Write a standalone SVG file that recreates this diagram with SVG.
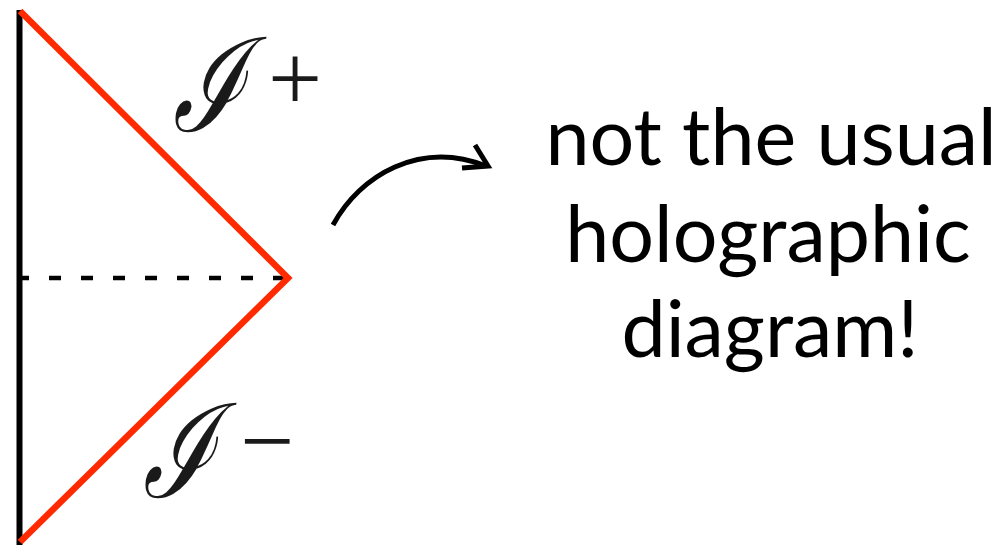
<svg xmlns="http://www.w3.org/2000/svg" width="1001" height="546" viewBox="0 0 1001 546">
<style>
.red{stroke:#ff2a00;stroke-width:6.5;fill:none;stroke-linejoin:miter}
.blk{stroke:#000;fill:none}
.big{font-family:Lato,"Open Sans",sans-serif;font-size:79px;fill:#000;text-anchor:middle}
.scr{font-family:"DejaVu Serif",serif;font-style:italic;font-size:100px;fill:#1a1a1a}
.sup{font-family:"Liberation Serif",serif;font-size:96px;fill:#1a1a1a}
</style>
<rect width="1001" height="546" fill="#fff"/>
<g id="diagram">
<line class="blk" x1="17" y1="278" x2="285" y2="278" stroke-width="4.5" stroke-dasharray="12 20"/>
<line class="blk" x1="19.5" y1="10" x2="19.5" y2="545" stroke-width="6"/>
<polyline class="red" points="20,11 288,278 20,542"/>
</g>
<g id="labels">
<text class="scr" transform="translate(173,131) scale(0.98,1.3)">ℐ</text>
<text class="sup" x="268" y="110">+</text>
<text class="scr" transform="translate(143,497) scale(0.98,1.3)">ℐ</text>
<text class="sup" x="240" y="473">−</text>
</g>
<g id="connectors">
<path class="blk" stroke-width="5" d="M333,225 C360,175 420,140 486,166"/>
<polyline class="blk" stroke-width="5" points="475,145 488,166 462,168"/>
</g>
<g id="note">
<text class="big" x="771" y="165">not the usual</text>
<text class="big" x="768" y="262">holographic</text>
<text class="big" x="770" y="357">diagram!</text>
</g>
</svg>
